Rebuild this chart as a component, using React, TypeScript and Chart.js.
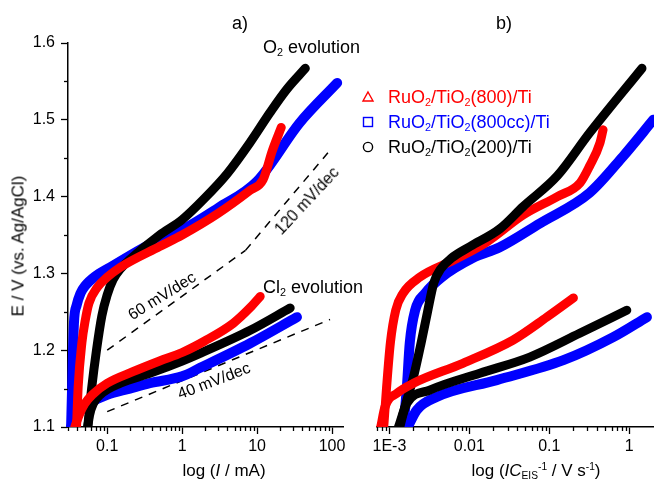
import React, { useEffect, useRef } from "react";
import { Chart, registerables } from "chart.js";

Chart.register(...registerables);

type Pt = [number, number];

const FONT = '"Liberation Sans", Arial, Helvetica, sans-serif';

// ---------- series meta ----------
const seriesNames = ["RuO2/TiO2(800)/Ti", "RuO2/TiO2(800cc)/Ti", "RuO2/TiO2(200)/Ti"];
const red = "#ff0000";
const blue = "#0000ff";
const black = "#000000";

// ---------- panel a: E vs log(I / mA) ----------
const aRedO2: Pt[] = [
  [0.039, 1.1], [0.041, 1.152], [0.046, 1.21], [0.051, 1.239], [0.057, 1.261],
  [0.074, 1.282], [0.1, 1.295], [0.15, 1.308], [0.5, 1.335], [1, 1.35],
  [3, 1.378], [8, 1.408], [12, 1.422], [16, 1.46], [21, 1.49],
];
const aRedCl2: Pt[] = [
  [0.037, 1.1], [0.042, 1.115], [0.05, 1.13], [0.065, 1.143], [0.1, 1.157],
  [0.22, 1.172], [0.5, 1.186], [1, 1.197], [2, 1.212], [4.8, 1.235], [8, 1.255], [11, 1.27],
];
const aBlackO2: Pt[] = [
  [0.055, 1.1], [0.062, 1.15], [0.072, 1.2], [0.085, 1.245], [0.1, 1.272],
  [0.12, 1.292], [0.15, 1.306], [0.2, 1.318], [0.5, 1.35], [1, 1.37],
  [2, 1.398], [4, 1.43], [8, 1.47], [15, 1.51], [25, 1.54], [44, 1.567],
];
const aBlackCl2: Pt[] = [
  [0.055, 1.1], [0.058, 1.115], [0.065, 1.13], [0.081, 1.142], [0.15, 1.157],
  [0.37, 1.17], [1, 1.186], [1.74, 1.196], [8.1, 1.226], [27.6, 1.255],
];
const aBlueO2: Pt[] = [
  [0.033, 1.1], [0.034, 1.15], [0.036, 1.235], [0.039, 1.258], [0.044, 1.274],
  [0.051, 1.284], [0.069, 1.296], [0.11, 1.308], [0.3, 1.333], [0.65, 1.35], [1, 1.357],
  [3, 1.385], [10, 1.42], [37, 1.496], [117, 1.548],
];
const aBlueCl2: Pt[] = [
  [0.033, 1.1], [0.036, 1.11], [0.045, 1.122], [0.06, 1.132], [0.1, 1.142],
  [0.2, 1.15], [0.37, 1.157], [1, 1.166], [1.74, 1.177], [8.1, 1.209], [34, 1.243],
];
// Tafel guide lines (panel a)
const slope60: Pt[] = [[0.1, 1.2], [7, 1.33]];
const slope120: Pt[] = [[7, 1.33], [88, 1.457]];
const slope40: Pt[] = [[0.1, 1.12], [94, 1.24]];

// ---------- panel b: E vs log(I C_EIS^-1 / V s^-1) ----------
const bRedO2: Pt[] = [
  [8.5e-4, 1.1], [9.2e-4, 1.15], [1.03e-3, 1.21], [1.2e-3, 1.252], [1.48e-3, 1.274],
  [2.4e-3, 1.295], [6.3e-3, 1.317], [0.0166, 1.341], [0.047, 1.376], [0.126, 1.4],
  [0.243, 1.418], [0.32, 1.44], [0.43, 1.47], [0.47, 1.487],
];
const bRedCl2: Pt[] = [
  [7.8e-4, 1.1], [8.8e-4, 1.126], [1.25e-3, 1.144], [2.0e-3, 1.157], [8.3e-3, 1.183],
  [0.035, 1.213], [0.093, 1.243], [0.2, 1.268],
];
const bBlackO2: Pt[] = [
  [1.35e-3, 1.1], [1.6e-3, 1.13], [2.0e-3, 1.165], [2.5e-3, 1.21], [3.0e-3, 1.25],
  [3.6e-3, 1.288], [4.4e-3, 1.306], [6.0e-3, 1.32], [0.0102, 1.335], [0.024, 1.358], [0.047, 1.387],
  [0.126, 1.427], [0.32, 1.483], [1.44, 1.567],
];
const bBlackCl2: Pt[] = [
  [1.3e-3, 1.1], [1.66e-3, 1.131], [3.2e-3, 1.148], [0.0135, 1.17], [0.057, 1.191],
  [0.24, 1.222], [0.93, 1.252],
];
const bBlueO2: Pt[] = [
  [1.5e-3, 1.1], [1.65e-3, 1.15], [1.8e-3, 1.21], [2.1e-3, 1.252], [2.8e-3, 1.274],
  [4.5e-3, 1.295], [0.011, 1.32], [0.024, 1.334], [0.076, 1.365], [0.32, 1.405],
  [0.83, 1.452], [2.0, 1.5],
];
const bBlueCl2: Pt[] = [
  [1.7e-3, 1.1], [2.2e-3, 1.122], [3.9e-3, 1.139], [0.022, 1.161], [0.15, 1.187],
  [0.63, 1.217], [1.66, 1.243],
];

// ---------- axes ----------
const yMin = 1.1;
const yMax = 1.6;
const yMajorTicks = [1.1, 1.2, 1.3, 1.4, 1.5, 1.6];
const yTickLabels = ["1.1", "1.2", "1.3", "1.4", "1.5", "1.6"];
const yMinorTicks = [1.15, 1.25, 1.35, 1.45, 1.55];

const aXMin = 0.03;
const aXMax = 140;
const aXTicks = [0.1, 1, 10, 100];
const aXTickLabels = ["0.1", "1", "10", "100"];

const bXMin = 7.0e-4;
const bXMax = 1.98;
const bXTicks = [1e-3, 0.01, 0.1, 1];
const bXTickLabels = ["1E-3", "0.01", "0.1", "1"];

const toXY = (pts: Pt[]) => pts.map(([x, y]) => ({ x, y }));

function band(data: Pt[], color: string, width: number) {
  return {
    data: toXY(data),
    borderColor: color,
    backgroundColor: color,
    borderWidth: width,
    borderCapStyle: "round" as const,
    borderJoinStyle: "round" as const,
    cubicInterpolationMode: "monotone" as const,
    pointRadius: 0,
    fill: false,
    clip: { left: 10, top: 10, right: 10, bottom: 0 },
  };
}

function dashed(data: Pt[]) {
  return {
    data: toXY(data),
    borderColor: "#000",
    borderWidth: 1.5,
    borderDash: [8, 7],
    pointRadius: 0,
    fill: false,
    tension: 0,
  };
}

const minorTickPlugin = {
  id: "minorTicks",
  afterDraw(chart: any) {
    const ctx = chart.ctx;
    const xs = chart.scales.x;
    const ys = chart.scales.y;
    const { left, bottom } = chart.chartArea;
    ctx.save();
    ctx.strokeStyle = "#000";
    ctx.lineWidth = 1.3;
    const e0 = Math.floor(Math.log10(xs.min));
    const e1 = Math.ceil(Math.log10(xs.max));
    for (let e = e0; e <= e1; e++) {
      for (let m = 2; m <= 9; m++) {
        const v = m * Math.pow(10, e);
        if (v < xs.min * 0.999 || v > xs.max) continue;
        const px = Math.round(xs.getPixelForValue(v)) + 0.5;
        ctx.beginPath();
        ctx.moveTo(px, bottom);
        ctx.lineTo(px, bottom + 4);
        ctx.stroke();
      }
    }
    if (ys.options.display) {
      for (const v of yMinorTicks) {
        const py = Math.round(ys.getPixelForValue(v)) + 0.5;
        ctx.beginPath();
        ctx.moveTo(left, py);
        ctx.lineTo(left - 4, py);
        ctx.stroke();
      }
    }
    ctx.restore();
  },
};

function makeConfig(
  datasets: any[],
  xMin: number,
  xMax: number,
  xTicks: number[],
  xLabels: string[],
  showY: boolean,
  padLeft: number,
  padRight: number
): any {
  const tickFont = { family: FONT, size: 16 };
  const gridOpts = {
    display: true,
    drawOnChartArea: false,
    drawTicks: true,
    tickLength: 7,
    tickWidth: 1.3,
    tickColor: "#000",
    color: "#000",
  };
  return {
    type: "line",
    data: { datasets },
    plugins: [minorTickPlugin],
    options: {
      responsive: false,
      maintainAspectRatio: false,
      animation: false,
      devicePixelRatio: 1,
      events: [],
      layout: { padding: { left: padLeft, right: padRight, top: 43, bottom: 0 } },
      plugins: { legend: { display: false }, tooltip: { enabled: false }, title: { display: false } },
      scales: {
        x: {
          type: "logarithmic",
          min: xMin,
          max: xMax,
          afterBuildTicks: (s: any) => {
            s.ticks = xTicks.map((v) => ({ value: v }));
          },
          afterFit: (s: any) => {
            s.height = 56;
          },
          ticks: {
            autoSkip: false,
            maxRotation: 0,
            minRotation: 0,
            padding: 3,
            color: "#000",
            font: tickFont,
            callback: (_v: any, i: number) => xLabels[i],
          },
          grid: gridOpts,
          border: { display: true, color: "#000", width: 1.5 },
        },
        y: {
          type: "linear",
          display: showY,
          min: yMin,
          max: yMax,
          afterBuildTicks: (s: any) => {
            s.ticks = yMajorTicks.map((v) => ({ value: v }));
          },
          afterFit: (s: any) => {
            s.width = showY ? 68 : 0;
          },
          ticks: {
            autoSkip: false,
            padding: 6,
            color: "#000",
            font: tickFont,
            callback: (_v: any, i: number) => yTickLabels[i],
          },
          grid: gridOpts,
          border: { display: true, color: "#000", width: 1.5 },
        },
      },
    },
  };
}

function ChartCanvas({ config, left, width, height }: { config: () => any; left: number; width: number; height: number }) {
  const ref = useRef<HTMLCanvasElement | null>(null);
  useEffect(() => {
    if (!ref.current) return;
    const chart = new Chart(ref.current, config());
    return () => chart.destroy();
  }, []);
  return (
    <canvas
      ref={ref}
      width={width}
      height={height}
      style={{ position: "absolute", left, top: 0, width, height }}
    />
  );
}

function Label({
  x, y, size = 18, color = "#000", anchor = "left", children,
}: { x: number; y: number; size?: number; color?: string; anchor?: "left" | "center"; children: any }) {
  return (
    <div
      style={{
        position: "absolute",
        left: x,
        top: y - 0.85 * size,
        fontFamily: FONT,
        fontSize: size,
        lineHeight: `${size}px`,
        color,
        whiteSpace: "nowrap",
        transform: anchor === "center" ? "translateX(-50%)" : undefined,
      }}
    >
      {children}
    </div>
  );
}

function Rotated({ cx, cy, deg, size = 16, children }: { cx: number; cy: number; deg: number; size?: number; children: any }) {
  return (
    <div
      style={{
        position: "absolute",
        left: cx,
        top: cy,
        fontFamily: FONT,
        fontSize: size,
        lineHeight: `${size}px`,
        color: "#000",
        whiteSpace: "nowrap",
        transform: `translate(-50%, -50%) rotate(${deg}deg)`,
      }}
    >
      {children}
    </div>
  );
}

const Sub = ({ children }: { children: any }) => (
  <span style={{ fontSize: "0.6em", verticalAlign: "-0.3em", lineHeight: 0 }}>{children}</span>
);
const Sup = ({ children }: { children: any }) => (
  <span style={{ fontSize: "0.6em", verticalAlign: "0.55em", lineHeight: 0 }}>{children}</span>
);

function LegendName({ name }: { name: string }) {
  const parts = name.split(/(O2)/);
  return (
    <>
      {parts.map((p, i) =>
        p === "O2" ? (
          <span key={i}>
            O<Sub>2</Sub>
          </span>
        ) : (
          <span key={i}>{p}</span>
        )
      )}
    </>
  );
}

function Marker({ kind, color, cx, cy }: { kind: "tri" | "sq" | "circ"; color: string; cx: number; cy: number }) {
  return (
    <svg
      width={14}
      height={14}
      style={{ position: "absolute", left: cx - 7, top: cy - 7, overflow: "visible" }}
    >
      {kind === "tri" && <polygon points="7,2 12,11 2,11" fill="none" stroke={color} strokeWidth={1.4} />}
      {kind === "sq" && <rect x={2.5} y={2.5} width={9} height={9} fill="none" stroke={color} strokeWidth={1.4} />}
      {kind === "circ" && <circle cx={7} cy={7} r={4.6} fill="none" stroke={color} strokeWidth={1.4} />}
    </svg>
  );
}

export default function App() {
  // dataset 0 is drawn on top
  const configA = () =>
    makeConfig(
      [
        band(aRedCl2, red, 9),
        band(aBlackCl2, black, 9),
        band(aRedO2, red, 9),
        band(aBlackO2, black, 9),
        band(aBlueO2, blue, 10),
        band(aBlueCl2, blue, 10),
        dashed(slope60),
        dashed(slope120),
        dashed(slope40),
      ],
      aXMin, aXMax, aXTicks, aXTickLabels, true, 0, 17
    );
  const configB = () =>
    makeConfig(
      [
        band(bRedCl2, red, 9),
        band(bBlackCl2, black, 9),
        band(bBlackO2, black, 9),
        band(bRedO2, red, 9),
        band(bBlueO2, blue, 10),
        band(bBlueCl2, blue, 10),
      ],
      bXMin, bXMax, bXTicks, bXTickLabels, false, 37, 1
    );

  const legend = [
    { name: seriesNames[0], color: red, kind: "tri" as const },
    { name: seriesNames[1], color: blue, kind: "sq" as const },
    { name: seriesNames[2], color: black, kind: "circ" as const },
  ];

  return (
    <div style={{ position: "absolute", left: 0, top: 0, width: 654, height: 483, background: "#fff", overflow: "hidden" }}>
      <ChartCanvas config={configA} left={0} width={360} height={483} />
      <ChartCanvas config={configB} left={340} width={314} height={483} />

      <Label x={240} y={29} anchor="center">a)</Label>
      <Label x={504} y={29} anchor="center">b)</Label>

      <Label x={263} y={53}>
        O<Sub>2</Sub> evolution
      </Label>
      <Label x={263} y={293}>
        Cl<Sub>2</Sub> evolution
      </Label>

      <Rotated cx={162} cy={296} deg={-32}>60 mV/dec</Rotated>
      <Rotated cx={307} cy={201} deg={-47}>120 mV/dec</Rotated>
      <Rotated cx={214} cy={381} deg={-21}>40 mV/dec</Rotated>

      {legend.map((l, i) => (
        <React.Fragment key={l.name}>
          <Marker kind={l.kind} color={l.color} cx={368} cy={97 + i * 25} />
          <Label x={388} y={103 + i * 25} color={l.color}>
            <LegendName name={l.name} />
          </Label>
        </React.Fragment>
      ))}

      <Label x={224} y={476} size={17} anchor="center">
        log (<i>I</i> / mA)
      </Label>
      <Label x={536} y={476} size={17} anchor="center">
        log (<i>IC</i>
        <Sub>EIS</Sub>
        <Sup>-1</Sup> / V s<Sup>-1</Sup>)
      </Label>
      <div
        style={{
          position: "absolute",
          left: 18,
          top: 246,
          fontFamily: FONT,
          fontSize: 17,
          lineHeight: "17px",
          whiteSpace: "nowrap",
          color: "#000",
          transform: "translate(-50%, -50%) rotate(-90deg)",
        }}
      >
        E / V (vs. Ag/AgCl)
      </div>
    </div>
  );
}
